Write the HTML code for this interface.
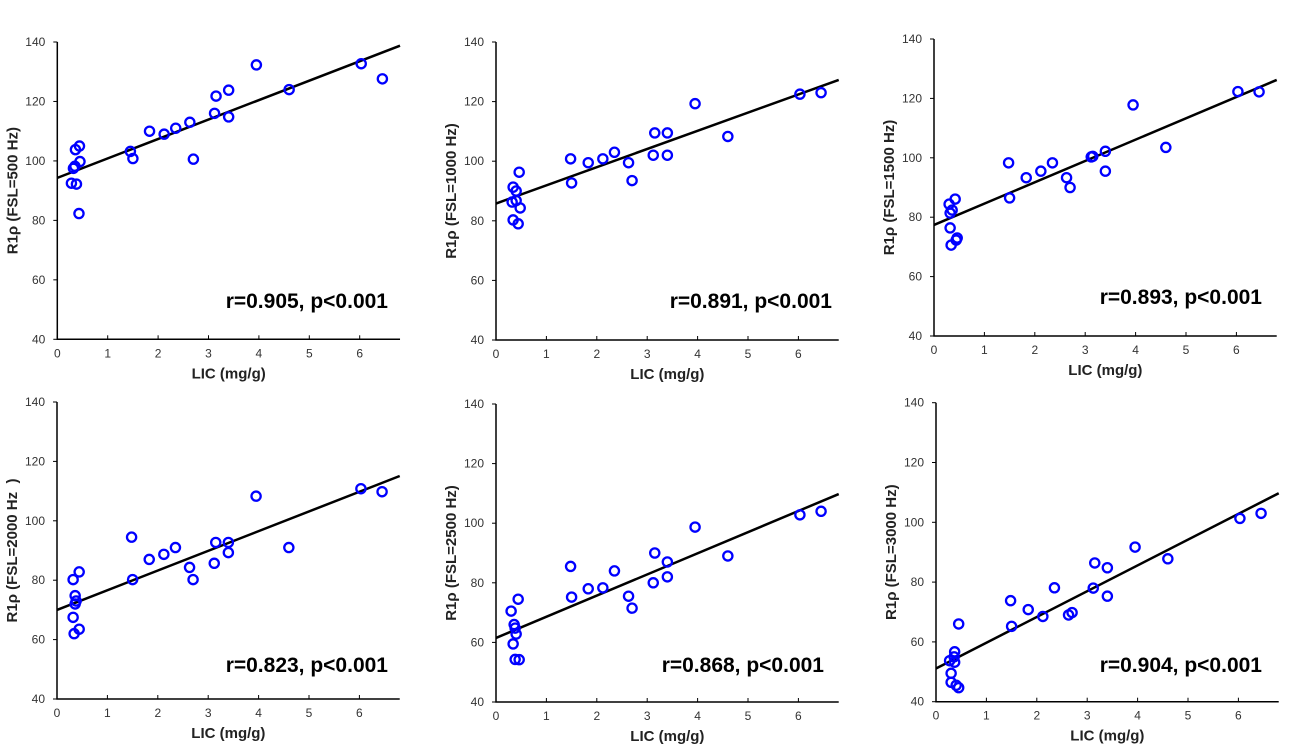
<!DOCTYPE html>
<html><head><meta charset="utf-8">
<style>
html,body{margin:0;padding:0;background:#fff;}
svg{display:block;font-family:"Liberation Sans",Arial,sans-serif;}
.tick{font-size:12px;fill:#333;}
.ytitle,.xtitle{font-size:15px;font-weight:bold;fill:#222;}
.stat{font-size:21px;font-weight:bold;fill:#000;}
</style></head>
<body>
<svg id="chart" width="1290" height="756"></svg>
<script>
const lic = [0.28,0.32,0.35,0.36,0.38,0.43,0.44,0.45,1.45,1.5,1.83,2.12,2.35,2.63,2.7,3.12,3.15,3.4,3.4,3.95,4.6,6.03,6.45];
const r500  = [92.5,97.5,98.2,103.8,92.2,82.3,105,99.8,103.2,100.8,110,109,111,113,100.6,116,121.8,123.8,114.8,132.3,124,132.7,127.6];
const lic2 = [0.34,0.4,0.32,0.4,0.34,0.46,0.48,0.44,1.48,1.5,1.83,2.12,2.35,2.63,2.7,3.12,3.15,3.4,3.4,3.95,4.6,6.03,6.45];
const r1000 = [91.3,90,86.3,86.8,80.3,96.3,84.3,79,100.8,92.7,99.5,100.8,103,99.5,93.5,102,109.5,109.5,102,119.3,108.3,122.5,123];
const lic3 = [0.3,0.36,0.32,0.42,0.32,0.44,0.34,0.46,1.48,1.5,1.83,2.12,2.35,2.63,2.7,3.12,3.15,3.4,3.4,3.95,4.6,6.03,6.45];
const r1500 = [84.4,82.4,81.4,86.1,76.4,72.3,70.6,73,98.3,86.5,93.3,95.5,98.3,93.3,90,100.3,100.5,102.2,95.5,117.8,103.5,122.3,122.2];
const lic4 = [0.32,0.44,0.36,0.38,0.36,0.32,0.44,0.34,1.48,1.5,1.83,2.12,2.35,2.63,2.7,3.12,3.15,3.4,3.4,3.95,4.6,6.03,6.45];
const r2000 = [80.2,82.8,74.8,73,72,67.5,63.5,62,94.5,80.2,87,88.7,91,84.3,80.2,85.7,92.7,92.7,89.3,108.3,91,110.8,109.8];
const lic5 = [0.3,0.38,0.4,0.44,0.34,0.38,0.46,0.36,1.48,1.5,1.83,2.12,2.35,2.63,2.7,3.12,3.15,3.4,3.4,3.95,4.6,6.03,6.45];
const r2500 = [70.5,64.8,62.8,74.5,59.5,54.3,54.2,66,85.5,75.2,78,78.3,84,75.5,71.5,80,90,87,82,98.7,89,102.8,104];
const lic6 = [0.27,0.3,0.3,0.37,0.36,0.37,0.4,0.45,0.45,1.48,1.5,1.83,2.12,2.35,2.63,2.7,3.12,3.15,3.4,3.4,3.95,4.6,6.03,6.45];
const r3000 = [53.7,49.5,46.5,56.7,55,53.2,45.5,44.7,66,73.8,65.2,70.8,68.5,78.1,69,69.8,78,86.4,84.8,75.3,91.7,87.8,101.3,103];
const intercepts = [94.3,85.8,77.4,70,61.5,51.1];
const slopes = [6.54,6.1,7.18,6.63,7.1,8.62];
const titles = ["R1ρ (FSL=500 Hz)","R1ρ (FSL=1000 Hz)","R1ρ (FSL=1500 Hz)","R1ρ (FSL=2000 Hz\u00a0\u00a0)","R1ρ (FSL=2500 Hz)","R1ρ (FSL=3000 Hz)"];
const stats = ["r=0.905, p<0.001","r=0.891, p<0.001","r=0.893, p<0.001","r=0.823, p<0.001","r=0.868, p<0.001","r=0.904, p<0.001"];
const xTicks = [0,1,2,3,4,5,6];
const yTicks = [40,60,80,100,120,140];

const panels = [
 {x0:57.3,top:42,bot:339.3,xs:lic,ys:r500,statX:388,statY:308},
 {x0:496,top:42,bot:340,xs:lic2,ys:r1000,statX:832,statY:308},
 {x0:934,top:39,bot:336,xs:lic3,ys:r1500,statX:1262,statY:304},
 {x0:57,top:402,bot:699,xs:lic4,ys:r2000,statX:388,statY:672},
 {x0:496,top:404,bot:702,xs:lic5,ys:r2500,statX:824,statY:672},
 {x0:936,top:402.7,bot:701.7,xs:lic6,ys:r3000,statX:1262,statY:672}
];
const NS="http://www.w3.org/2000/svg";
const svg=document.getElementById('chart');
function mk(tag,attrs,parent){const e=document.createElementNS(NS,tag);for(const k in attrs)e.setAttribute(k,attrs[k]);(parent||svg).appendChild(e);return e;}
const UNIT=50.4, XMAX=6.8;
panels.forEach((p,i)=>{
  const g=mk('g',{});
  
  
  const sx=v=>p.x0+v*UNIT;
  const sy=v=>p.bot-(v-40)/100*(p.bot-p.top);
  const xEnd=sx(XMAX);
  const ax=mk('path',{d:`M${p.x0},${p.top} L${p.x0},${p.bot} L${xEnd},${p.bot}`,fill:'none',stroke:'#000','stroke-width':1.5},g);
  
  
  yTicks.forEach(t=>{
    const y=sy(t);
    mk('line',{x1:p.x0-4,x2:p.x0,y1:y,y2:y,stroke:'#000','stroke-width':1},g);
    const tx=mk('text',{x:p.x0-12,y:y+4,'text-anchor':'end',class:'tick'},g);
    tx.textContent=t;
    
    
  });
  xTicks.forEach(t=>{
    const x=sx(t);
    mk('line',{x1:x,x2:x,y1:p.bot-4,y2:p.bot,stroke:'#000','stroke-width':1},g);
    const tx=mk('text',{x:x,y:p.bot+18,'text-anchor':'middle',class:'tick'},g);
    tx.textContent=t;
    
    
  });
  const fit=mk('line',{x1:sx(0),y1:sy(intercepts[i]),x2:xEnd,y2:sy(intercepts[i]+slopes[i]*XMAX),stroke:'#000','stroke-width':2.5},g);
  
  
  p.xs.forEach((xv,j)=>{
    const c=mk('circle',{cx:sx(xv),cy:sy(p.ys[j]),r:4.6,fill:'none',stroke:'#0000ff','stroke-width':2.3},g);
    
    
  });
  const yt=mk('text',{x:0,y:0,'text-anchor':'middle',class:'ytitle',transform:`translate(${p.x0-40},${(p.top+p.bot)/2}) rotate(-90)`},g);
  yt.textContent=titles[i];
  
  
  const xt=mk('text',{x:(p.x0+xEnd)/2,y:p.bot+39,'text-anchor':'middle',class:'xtitle'},g);
  xt.textContent='LIC (mg/g)';
  
  
  const st=mk('text',{x:p.statX,y:p.statY,'text-anchor':'end',class:'stat'},g);
  st.textContent=stats[i];
  
  
});
</script>
</body></html>
